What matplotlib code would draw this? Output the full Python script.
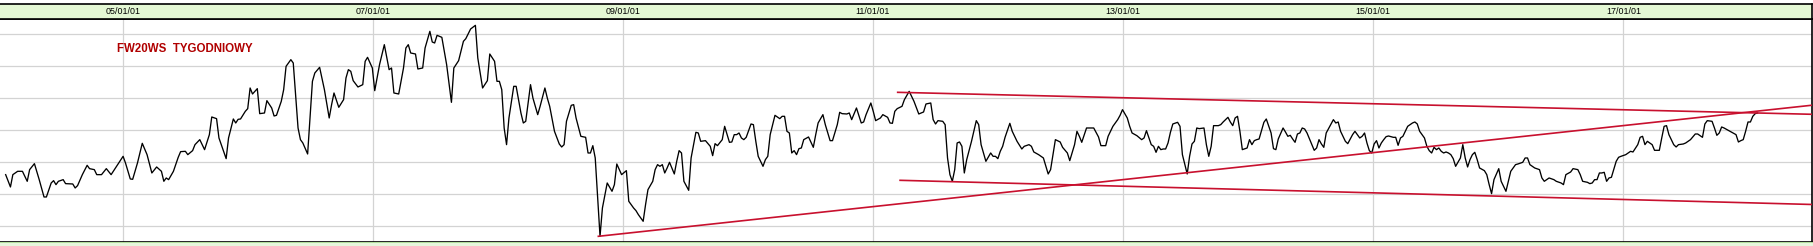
import numpy as np
import pandas as pd
import matplotlib
matplotlib.use("Agg")
import matplotlib.pyplot as plt

# weekly closes of FW20WS, x = weeks since 2004-01-25
START = pd.Timestamp("2004-01-25")

weeks_04_07 = [0, 2, 3, 5, 7, 9, 10, 12, 14, 16, 17, 19, 20, 21, 22, 24, 25, 28, 29, 30,
               32, 34, 35, 37, 38, 40, 42, 44, 46, 49, 50, 52, 53, 55, 57, 59, 61, 63, 65, 66,
               67, 68, 70, 72, 73, 75, 76, 78, 79, 81, 83, 85, 86, 88, 89, 92, 93, 95, 96, 97,
               98, 100, 101, 102, 103, 105, 106, 108, 109, 111, 112, 113, 115, 116, 117, 119, 120, 122, 123, 124,
               126, 128, 129, 131, 133, 135, 136, 137, 139, 141, 142, 143, 144, 145, 147, 149, 150, 151, 153, 154,
               156, 158, 160, 161, 162, 164, 166, 167, 168, 169, 171, 172, 174, 175, 177, 178, 179, 180, 182, 184, 186]
close_04_07 = [2175, 1990, 2175, 2225, 2225, 2075, 2250, 2340, 2100, 1840, 1840, 2050, 2085, 2025, 2075, 2100, 2040, 2035, 1975, 2010,
               2175, 2315, 2265, 2250, 2175, 2175, 2265, 2175, 2285, 2450, 2350, 2110, 2105, 2350, 2645, 2475, 2200, 2290, 2225, 2075,
               2125, 2100, 2225, 2435, 2520, 2525, 2475, 2535, 2625, 2700, 2550, 2775, 3040, 3015, 2725, 2415, 2725, 3010, 2950, 3005,
               3010, 3125, 3165, 3475, 3385, 3465, 3090, 3100, 3285, 3175, 3055, 3065, 3275, 3450, 3800, 3900, 3850, 2875, 2700, 2650,
               2485, 3575, 3700, 3785, 3450, 3025, 3225, 3400, 3185, 3300, 3625, 3750, 3725, 3585, 3490, 3525, 3875, 3935, 3775, 3435,
               3825, 4125, 3750, 3775, 3400, 3385, 3775, 4075, 4125, 4000, 3985, 3760, 3775, 4075, 4325, 4165, 4150, 4265, 4235, 3825, 3260]

weeks_07_11 = [187, 189, 191, 192, 194, 196, 197, 199, 201, 202, 204, 205, 206, 207, 208, 209, 210, 212, 213, 215,
               216, 217, 219, 220, 222, 223, 225, 226, 227, 229, 231, 232, 233, 234, 236, 237, 238, 240, 242, 243,
               244, 245, 246, 247, 248, 249, 251, 253, 254, 255, 257, 259, 260, 262, 263, 264, 266, 267, 268, 270,
               271, 272, 273, 274, 275, 276, 277, 279, 280, 281, 282, 283, 285, 286, 288, 289, 290, 292, 294, 295,
               296, 297, 299, 300, 302, 303, 304, 305, 306, 307, 308, 309, 311, 312, 313, 314, 316, 317, 318, 319,
               321, 323, 324, 325, 326, 327, 328, 329, 330, 331, 332, 333, 335, 337, 338, 339, 341, 342, 344, 345,
               347, 348, 349, 351, 352, 353, 355, 357, 358, 359, 361, 362, 363, 365, 366, 368, 369, 370, 371, 372, 374, 375]
close_07_11 = [3775, 3885, 4175, 4215, 4360, 4415, 3925, 3475, 3585, 3985, 3875, 3575, 3575, 3450, 2875, 2625, 3025, 3500, 3500, 3100,
               2950, 2975, 3525, 3325, 3075, 3200, 3475, 3325, 3200, 2825, 2635, 2590, 2625, 2975, 3215, 3225, 3025, 2750, 2735, 2500,
               2500, 2610, 2425, 1825, 1250, 1675, 2050, 1925, 2025, 2335, 2175, 2235, 1775, 1675, 1635, 1575, 1475, 1725, 1950, 2075,
               2250, 2325, 2300, 2325, 2200, 2275, 2360, 2185, 2375, 2535, 2500, 2075, 1940, 2425, 2810, 2800, 2675, 2685, 2600, 2460,
               2640, 2610, 2700, 2900, 2660, 2665, 2775, 2775, 2800, 2725, 2700, 2735, 2935, 2925, 2675, 2450, 2300, 2400, 2450, 2775,
               3065, 3015, 3050, 3050, 2825, 2800, 2500, 2535, 2475, 2565, 2575, 2700, 2740, 2585, 2775, 2950, 3075, 2925, 2685, 2685,
               2925, 3110, 3090, 3085, 3100, 3000, 3175, 2950, 2965, 3075, 3250, 3125, 2985, 3025, 3075, 3035, 2950, 2945, 3125, 3165, 3200, 3300]

weeks_11_14 = [377, 379, 381, 383, 384, 386, 387, 388, 389, 391, 392, 393, 394, 395, 396, 397, 398, 399, 400, 401,
               403, 405, 406, 407, 409, 411, 412, 413, 414, 415, 416, 417, 419, 420, 422, 424, 425, 427, 428, 429,
               431, 433, 435, 436, 438, 440, 441, 443, 444, 446, 447, 448, 449, 451, 452, 454, 456, 457, 459, 460,
               462, 464, 465, 466, 468, 469, 470, 472, 474, 475, 476, 478, 479, 480, 481, 482, 483, 484, 485, 486,
               487, 489, 490, 491, 493, 494, 495, 496, 497, 498, 500, 501, 502, 503, 504, 506, 507, 508, 510, 511,
               512, 513, 514, 515, 516, 518, 519, 520, 521, 522, 523, 525, 526, 528, 529, 530, 531, 533, 534, 535,
               536, 537, 538, 539, 540, 541, 542, 543, 545, 546, 547, 548, 549, 550, 551, 553, 554, 555, 556, 557,
               559, 560, 562, 563]
close_11_14 = [3425, 3275, 3085, 3115, 3235, 3250, 3000, 2935, 2985, 2975, 2925, 2425, 2175, 2075, 2250, 2650, 2665, 2600, 2200, 2400,
               2675, 2985, 2925, 2625, 2375, 2500, 2450, 2450, 2415, 2525, 2600, 2735, 2945, 2825, 2675, 2560, 2600, 2625, 2600, 2515,
               2475, 2425, 2185, 2250, 2700, 2665, 2585, 2500, 2385, 2625, 2825, 2750, 2660, 2875, 2875, 2875, 2740, 2610, 2610, 2750,
               2900, 3000, 3065, 3150, 3025, 2900, 2800, 2760, 2700, 2725, 2835, 2625, 2600, 2510, 2600, 2550, 2560, 2560, 2650, 2810,
               2935, 2960, 2900, 2475, 2185, 2450, 2635, 2675, 2875, 2865, 2875, 2625, 2450, 2600, 2910, 2910, 2925, 2965, 3035, 2965,
               2910, 3025, 3050, 2825, 2550, 2575, 2700, 2625, 2685, 2700, 2710, 2960, 3010, 2800, 2565, 2550, 2710, 2875, 2815, 2750,
               2765, 2710, 2660, 2785, 2800, 2875, 2860, 2800, 2625, 2540, 2575, 2700, 2635, 2585, 2800, 2935, 3000, 2950, 2965, 2825,
               2675, 2640, 2775, 2825]

weeks_14_18 = [565, 566, 567, 568, 569, 570, 571, 572, 573, 574, 575, 576, 577, 579, 580, 581, 582, 583, 584, 585,
               587, 588, 589, 590, 592, 593, 594, 595, 596, 597, 598, 599, 600, 601, 602, 603, 604, 605, 607, 608,
               609, 610, 611, 612, 613, 614, 615, 617, 618, 619, 620, 621, 623, 624, 626, 627, 628, 630, 631, 633,
               634, 635, 636, 638, 640, 641, 642, 643, 644, 646, 647, 649, 650, 651, 653, 654, 656, 657, 658, 660,
               661, 662, 663, 664, 665, 666, 667, 668, 669, 670, 672, 673, 674, 676, 677, 678, 679, 681, 682, 683,
               684, 685, 687, 688, 690, 691, 692, 693, 694, 696, 697, 698, 700, 701, 703, 705, 706, 708, 709, 710,
               712, 713, 714, 715, 716, 717, 719, 720, 722, 723, 724, 725, 726, 727, 728, 729, 730, 731]
close_14_18 = [2725, 2750, 2800, 2650, 2535, 2500, 2635, 2685, 2575, 2650, 2700, 2745, 2755, 2735, 2735, 2615, 2725, 2750, 2825, 2900,
               2950, 2965, 2935, 2825, 2725, 2600, 2535, 2500, 2585, 2550, 2575, 2525, 2500, 2515, 2500, 2475, 2415, 2300, 2425, 2625,
               2425, 2290, 2400, 2475, 2510, 2400, 2275, 2235, 2175, 2025, 1890, 2100, 2265, 2075, 1925, 2075, 2225, 2325, 2335, 2360,
               2425, 2425, 2325, 2275, 2250, 2125, 2075, 2100, 2125, 2100, 2075, 2050, 2025, 2175, 2215, 2265, 2250, 2175, 2075, 2060,
               2040, 2050, 2100, 2100, 2200, 2200, 2210, 2075, 2125, 2135, 2375, 2435, 2450, 2475, 2500, 2525, 2515, 2625, 2735, 2750,
               2625, 2675, 2625, 2540, 2540, 2725, 2900, 2910, 2775, 2625, 2590, 2625, 2635, 2650, 2700, 2785, 2785, 2735, 2935, 2985,
               2975, 2875, 2765, 2800, 2890, 2875, 2835, 2815, 2775, 2665, 2685, 2700, 2825, 2965, 2965, 3050, 3090, 3100]

# trend lines drawn by hand on the chart: (start week, end week), (start value, end value)
trend_weeks = [(247.3, 754.1), (372.2, 754.1), (373.2, 754.1)]
trend_vals = [(1250, 3218), (3410, 3080), (2090, 1727)]

grid_levels = [1400, 1880, 2360, 2840, 3320, 3800, 4280]
tick_years = [2005, 2007, 2009, 2011, 2013, 2015, 2017]
title = "FW20WS  TYGODNIOWY"


def to_date(w):
    return START + pd.to_timedelta(np.asarray(w, dtype=float) * 7, unit="D")


weeks = np.concatenate([weeks_04_07, weeks_07_11, weeks_11_14, weeks_14_18])
close = np.concatenate([close_04_07, close_07_11, close_11_14, close_14_18])
dates = to_date(weeks)
tick_dates = [pd.Timestamp(y, 1, 1) for y in tick_years]
tick_labels = [d.strftime("%y/%m/%d") for d in tick_dates]

W, H = 1813, 246
fig = plt.figure(figsize=(W / 100, H / 100), dpi=100)


def rect(x0, y0, x1, y1):
    return [x0 / W, 1 - y1 / H, (x1 - x0) / W, (y1 - y0) / H]


ax = fig.add_axes(rect(0, 19, 1812, 241.5))
hdr = fig.add_axes(rect(0, 3.5, 1812, 19), sharex=ax)
ftr = fig.add_axes(rect(0, 241.5, 1813, 246))

xmin, xmax = to_date([-2.36, 753.7])
ax.set_xlim(xmin, xmax)
ax.set_ylim(1172, 4510)

ax.set_xticks(tick_dates)
ax.set_yticks(grid_levels)
ax.grid(True, color="#d3d3d3", lw=0.9)
ax.set_axisbelow(True)
ax.tick_params(length=0, labelbottom=False, labelleft=False)

ax.plot(dates, close, color="black", lw=0.95, zorder=3)
for tw, tv in zip(trend_weeks, trend_vals):
    ax.plot(to_date(tw), tv, color="#c8102e", lw=1.2, zorder=4)

ax.text(0.1018, 0.867, title, transform=ax.transAxes, ha="center", va="center",
        fontsize=8.3, fontweight="bold", family="Liberation Sans", color="#b00000")

for side in ["top", "bottom", "right"]:
    ax.spines[side].set_linewidth(1.2)
    ax.spines[side].set_color("black")
ax.spines["left"].set_visible(False)

hdr.set_facecolor("#e4f8d4")
hdr.tick_params(length=0, labelbottom=False, labelleft=False)
hdr.set_yticks([])
for side in ["top", "bottom", "right"]:
    hdr.spines[side].set_linewidth(1.2)
    hdr.spines[side].set_color("black")
hdr.spines["left"].set_visible(False)
for d, lab in zip(tick_dates, tick_labels):
    hdr.text(d, 0.47, lab, transform=hdr.get_xaxis_transform(), ha="center", va="center",
             fontsize=6.4, family="Liberation Sans", color="black")

ftr.set_facecolor("#e6f6dc")
ftr.set_xticks([])
ftr.set_yticks([])
for side in ftr.spines:
    ftr.spines[side].set_visible(False)
ftr.axhline(1.0, color="#a8d890", lw=1.2)

fig.savefig("out.png", dpi=100)
